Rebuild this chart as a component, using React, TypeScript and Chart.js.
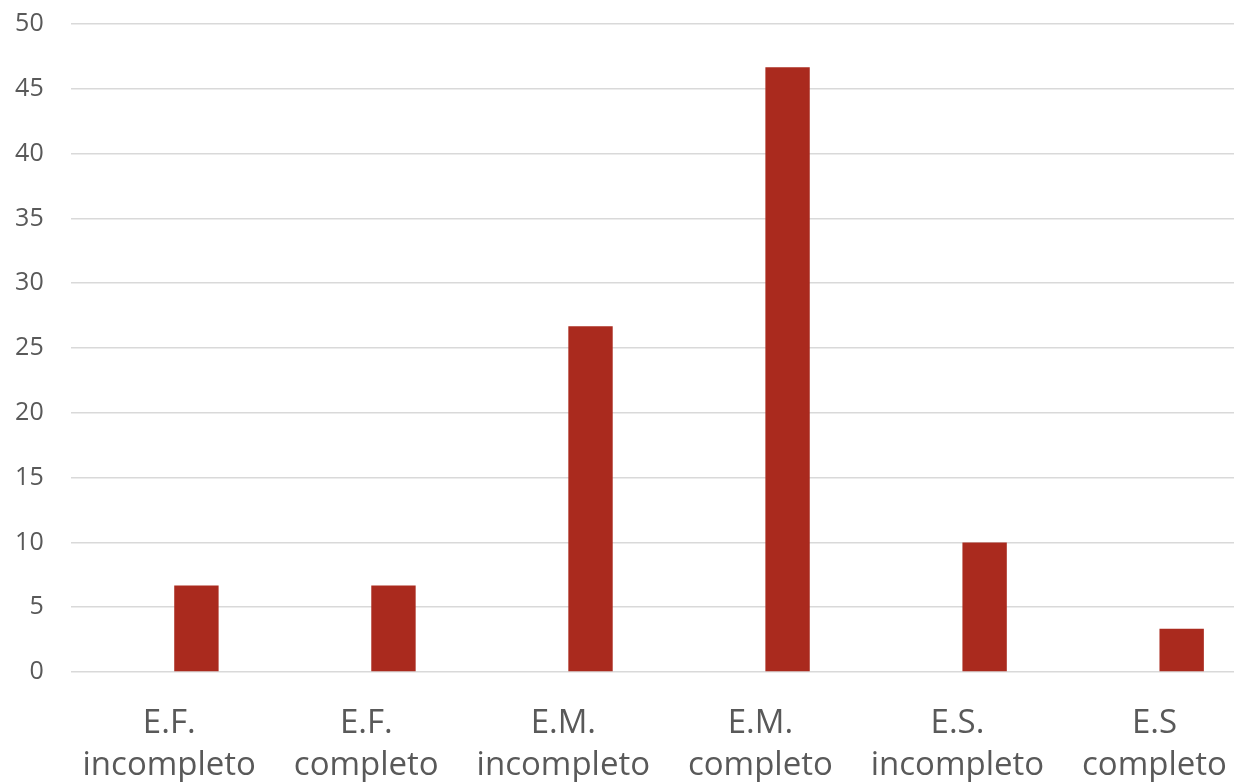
import React, { useEffect, useRef } from "react";
import { Chart, registerables } from "chart.js";

Chart.register(...registerables);

const categories: string[][] = [
  ["E.F.", "incompleto"],
  ["E.F.", "completo"],
  ["E.M.", "incompleto"],
  ["E.M.", "completo"],
  ["E.S.", "incompleto"],
  ["E.S", "completo"],
];
const emptySeries: (number | null)[] = [null, null, null, null, null, null];
const percentValues: number[] = [6.67, 6.67, 26.67, 46.67, 10, 3.33];
const yMin = 0;
const yMax = 50;
const yStep = 5;

export default function App() {
  const ref = useRef<HTMLCanvasElement | null>(null);
  useEffect(() => {
    document.body.style.margin = "0";
    const canvas = ref.current;
    if (!canvas) return;
    const chart = new Chart(canvas, {
      type: "bar",
      data: {
        labels: categories,
        datasets: [
          {
            label: "",
            data: emptySeries,
            backgroundColor: "#AA2A1E",
          },
          {
            label: "%",
            data: percentValues,
            backgroundColor: "#AA2A1E",
          },
        ],
      },
      options: {
        animation: false,
        responsive: false,
        devicePixelRatio: 1,
        datasets: {
          bar: { categoryPercentage: 0.552, barPercentage: 0.816 },
        },
        layout: { padding: { left: 0, right: 9, top: 24, bottom: 0 } },
        plugins: {
          legend: { display: false },
          tooltip: { enabled: false },
          title: { display: false },
        },
        scales: {
          x: {
            grid: { display: false, drawTicks: false },
            border: { display: false },
            ticks: {
              color: "#595959",
              font: { family: "Open Sans", size: 33, lineHeight: 1.273 },
              padding: 31,
              maxRotation: 0,
              autoSkip: false,
            },
            afterFit: (s: any) => {
              s.paddingLeft = 0;
              s.paddingRight = 0;
              s.height = 110;
            },
          },
          y: {
            min: yMin,
            max: yMax,
            grid: { color: "#d9d9d9", lineWidth: 1.5, drawTicks: false },
            border: { display: false },
            ticks: {
              stepSize: yStep,
              color: "#595959",
              font: { family: "Open Sans", size: 25 },
              padding: 27,
            },
            afterFit: (s: any) => {
              s.paddingTop = 0;
              s.paddingBottom = 0;
              s.width = 70.7;
            },
          },
        },
      },
    });
    return () => chart.destroy();
  }, []);
  return (
    <div style={{ width: 1234, height: 782, overflow: "hidden", background: "#fff" }}>
      <canvas ref={ref} width={1262} height={782} style={{ display: "block" }} />
    </div>
  );
}
